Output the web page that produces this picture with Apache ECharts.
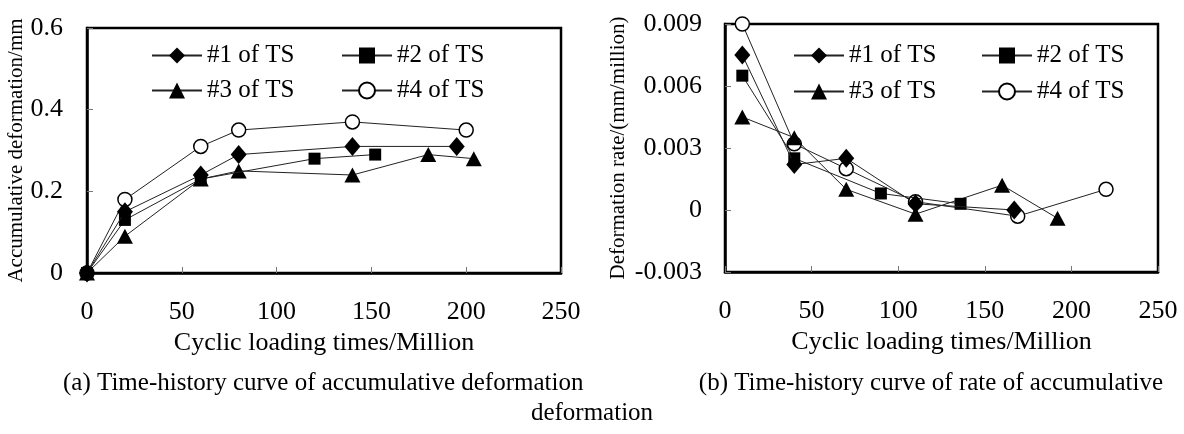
<!DOCTYPE html>
<html>
<head>
<meta charset="utf-8">
<script src="https://cdn.jsdelivr.net/npm/echarts@6/dist/echarts.min.js"></script>
<style>
html,body{margin:0;padding:0;background:#fff;}
#c{width:1184px;height:434px;}
</style>
</head>
<body>
<div id="c"></div>
<script>
// ---- Data ----
const seriesNames = ['#1 of TS', '#2 of TS', '#3 of TS', '#4 of TS'];

// (a) accumulative deformation (mm) vs cyclic loading times (million)
const defTS1 = [[0,0],[20,0.15],[60,0.24],[80,0.29],[140,0.31],[195,0.31]];
const defTS2 = [[0,0],[20,0.13],[60,0.23],[120,0.28],[152,0.29]];
const defTS3 = [[0,0],[20,0.09],[60,0.23],[80,0.25],[140,0.24],[180,0.29],[204,0.28]];
const defTS4 = [[0,0],[20,0.18],[60,0.31],[80,0.35],[140,0.37],[200,0.35]];

// (b) deformation rate (mm/million) vs cyclic loading times (million)
const rateTS1 = [[10,0.0075],[40,0.0022],[70,0.0025],[110,0.0003],[167,0.0000]];
const rateTS2 = [[10,0.0065],[40,0.0025],[90,0.0008],[136,0.0003]];
const rateTS3 = [[10,0.0045],[40,0.0035],[70,0.0010],[110,-0.0002],[160,0.0012],[192,-0.0004]];
const rateTS4 = [[10,0.0090],[40,0.0032],[70,0.0020],[110,0.0004],[169,-0.0003],[220,0.0010]];

const xTicks = [0, 50, 100, 150, 200, 250];
const yTicksA = [0, 0.2, 0.4, 0.6];
const yTicksB = [-0.003, 0, 0.003, 0.006, 0.009];

const xTitle = 'Cyclic loading times/Million';
const yTitleA = 'Accumulative deformation/mm';
const yTitleB = 'Deformation rate/(mm/million)';
const captionA = '(a) Time-history curve of accumulative deformation';
const captionB = '(b) Time-history curve of rate of accumulative';
const captionB2 = 'deformation';

// ---- Styles ----
const FONT = 'Liberation Serif';
const styles = [
  {symbol:'diamond', symbolSize:[16,19], itemStyle:{color:'#000'}, z:4},
  {symbol:'rect', symbolSize:12, itemStyle:{color:'#000'}, z:3},
  {symbol:'triangle', symbolSize:[16,15], itemStyle:{color:'#000'}, z:2},
  {symbol:'circle', symbolSize:14, itemStyle:{color:'#fff', borderColor:'#000', borderWidth:1.5}, z:1}
];

function mkSeries(name, idx, data, gi){
  const s = styles[idx];
  return {
    type:'line', name:name, xAxisIndex:gi, yAxisIndex:gi, data:data,
    symbol:s.symbol, symbolSize:s.symbolSize, itemStyle:s.itemStyle, z:s.z,
    lineStyle:{color:'#222', width:1}, showSymbol:true
  };
}

function xAx(gi){
  return {
    type:'value', gridIndex:gi, min:xTicks[0], max:xTicks[xTicks.length-1], interval:50,
    name:xTitle, nameLocation:'middle', nameGap:47,
    nameTextStyle:{fontFamily:FONT, fontSize:26, color:'#000'},
    axisLine:{show:true, onZero:false, lineStyle:{color:'#000', width:2.5}},
    axisTick:{show:true, inside:true, length:6, lineStyle:{color:'#777', width:1}},
    axisLabel:{fontFamily:FONT, fontSize:26, color:'#000', margin:26},
    splitLine:{show:false}
  };
}

const chart = echarts.init(document.getElementById('c'), null, {renderer:'canvas'});

const legendPos = [
  // chart a
  {name:seriesNames[0], left:151, top:43},
  {name:seriesNames[1], left:341, top:43},
  {name:seriesNames[2], left:151, top:78},
  {name:seriesNames[3], left:341, top:78},
  // chart b
  {name:seriesNames[0], left:793, top:43},
  {name:seriesNames[1], left:981, top:43},
  {name:seriesNames[2], left:793, top:79},
  {name:seriesNames[3], left:981, top:79}
];

const option = {
  animation:false,
  backgroundColor:'#fff',
  grid:[
    {left:87, top:28, width:474, height:245, show:true, borderColor:'#000', borderWidth:2.5, backgroundColor:'transparent'},
    {left:725, top:24, width:433, height:248, show:true, borderColor:'#000', borderWidth:2.5, backgroundColor:'transparent'}
  ],
  legend: legendPos.map(p => ({
    data:[p.name], left:p.left, top:p.top, padding:0,
    itemWidth:50, itemHeight:20, itemGap:5, selectedMode:false,
    textStyle:{fontFamily:FONT, fontSize:25, color:'#000'}
  })),
  xAxis:[xAx(0), xAx(1)],
  yAxis:[
    {
      type:'value', gridIndex:0, min:yTicksA[0], max:yTicksA[yTicksA.length-1], interval:0.2,
      name:yTitleA, nameLocation:'middle', nameGap:58, nameRotate:90,
      nameTextStyle:{fontFamily:FONT, fontSize:21, color:'#000'},
      axisLine:{show:true, onZero:false, lineStyle:{color:'#000', width:2.5}},
      axisTick:{show:true, inside:true, length:6, lineStyle:{color:'#777', width:1}},
      axisLabel:{fontFamily:FONT, fontSize:26, color:'#000', margin:24,
        formatter:v => v === 0 ? '0' : v.toFixed(1)},
      splitLine:{show:false}
    },
    {
      type:'value', gridIndex:1, min:yTicksB[0], max:yTicksB[yTicksB.length-1], interval:0.003,
      name:yTitleB, nameLocation:'middle', nameGap:96, nameRotate:90,
      nameTextStyle:{fontFamily:FONT, fontSize:21, color:'#000'},
      axisLine:{show:true, onZero:false, lineStyle:{color:'#000', width:2.5}},
      axisTick:{show:true, inside:true, length:6, lineStyle:{color:'#777', width:1}},
      axisLabel:{fontFamily:FONT, fontSize:26, color:'#000', margin:23,
        formatter:v => Math.abs(v) < 1e-9 ? '0' : v.toFixed(3)},
      splitLine:{show:false}
    }
  ],
  series:[
    mkSeries(seriesNames[0], 0, defTS1, 0),
    mkSeries(seriesNames[1], 1, defTS2, 0),
    mkSeries(seriesNames[2], 2, defTS3, 0),
    mkSeries(seriesNames[3], 3, defTS4, 0),
    mkSeries(seriesNames[0], 0, rateTS1, 1),
    mkSeries(seriesNames[1], 1, rateTS2, 1),
    mkSeries(seriesNames[2], 2, rateTS3, 1),
    mkSeries(seriesNames[3], 3, rateTS4, 1)
  ],
  graphic:[
    {type:'text', left:63, top:371, style:{text:captionA, font:'25px "' + FONT + '"', fill:'#000'}},
    {type:'text', right:21, top:371, style:{text:captionB, font:'25px "' + FONT + '"', fill:'#000'}},
    {type:'text', left:'center', top:401, style:{text:captionB2, font:'25px "' + FONT + '"', fill:'#000'}}
  ]
};
chart.setOption(option);
</script>
</body>
</html>
